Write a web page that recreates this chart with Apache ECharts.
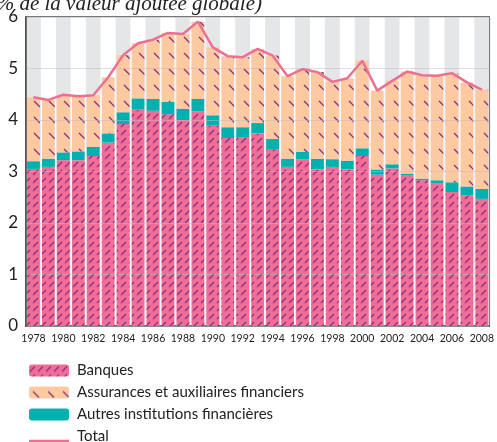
<!DOCTYPE html>
<html>
<head>
<meta charset="utf-8">
<script src="https://cdn.jsdelivr.net/npm/echarts@6/dist/echarts.min.js"></script>
<style>
    html, body { margin: 0; padding: 0; background: #fff; }
    #chart1 { width: 497px; height: 442px; }
</style>
</head>
<body>
<div id="chart1"></div>
<script>
var years = ['1978', '1979', '1980', '1981', '1982', '1983', '1984', '1985', '1986', '1987', '1988',
    '1989', '1990', '1991', '1992', '1993', '1994', '1995', '1996', '1997', '1998', '1999', '2000',
    '2001', '2002', '2003', '2004', '2005', '2006', '2007', '2008']
var banques = [3.05, 3.09, 3.22, 3.22, 3.30, 3.56, 3.92, 4.20, 4.18, 4.11, 4.00, 4.17, 3.89, 3.65, 3.67,
    3.74, 3.43, 3.09, 3.24, 3.04, 3.09, 3.04, 3.30, 2.94, 3.06, 2.92, 2.83, 2.77, 2.60, 2.54, 2.47]
var autres = [0.15, 0.16, 0.15, 0.17, 0.18, 0.18, 0.23, 0.22, 0.23, 0.24, 0.22, 0.24, 0.20, 0.21, 0.19,
    0.20, 0.20, 0.16, 0.14, 0.21, 0.15, 0.17, 0.15, 0.10, 0.08, 0.04, 0.03, 0.06, 0.19, 0.17, 0.19]
var assurances = [1.24, 1.14, 1.12, 1.07, 1.00, 1.09, 1.11, 1.07, 1.15, 1.34, 1.45, 1.50, 1.32, 1.38, 1.36,
    1.44, 1.62, 1.60, 1.61, 1.68, 1.50, 1.60, 1.70, 1.53, 1.62, 1.98, 2.01, 2.03, 2.12, 2.02, 1.93]
var total = [4.44, 4.39, 4.49, 4.46, 4.48, 4.83, 5.26, 5.49, 5.56, 5.69, 5.67, 5.91, 5.41, 5.24, 5.22,
    5.38, 5.25, 4.85, 4.99, 4.93, 4.74, 4.81, 5.15, 4.57, 4.76, 4.94, 4.87, 4.86, 4.91, 4.73, 4.59]
var yTicks = ['0', '1', '2', '3', '4', '5', '6']

// motifs hachurés
function hatch (bg, w, h, draw) {
    var c = document.createElement('canvas')
    c.width = w
    c.height = h
    var ctx = c.getContext('2d')
    ctx.fillStyle = bg
    ctx.fillRect(0, 0, w, h)
    ctx.strokeStyle = '#8a2c82'
    ctx.lineWidth = 1.3
    draw(ctx)
    return c
}
var banquesPattern = hatch('#f06e95', 8, 8, function (ctx) {
    ctx.beginPath()
    ctx.moveTo(1, 7)
    ctx.lineTo(6, 2)
    ctx.stroke()
})
var assurPattern = hatch('#fdc9a1', 15, 16, function (ctx) {
    ctx.beginPath()
    ctx.moveTo(4, 5)
    ctx.lineTo(10, 11)
    ctx.stroke()
})

var font = 'Lato, "Open Sans", sans-serif'
var myChart = echarts.init(document.getElementById('chart1'))
var option = {
    animation: false,
    graphic: [{
        type: 'text',
        right: 235,
        top: -6,
        style: {
            text: '(en % de la valeur ajoutée globale)',
            font: 'italic 21px "Liberation Serif", serif',
            fill: '#222'
        }
    }],
    grid: {
        left: 26,
        right: 6,
        top: 17,
        bottom: 116,
        show: true,
        borderColor: '#4a4a4a',
        borderWidth: 1.5
    },
    legend: {
        orient: 'vertical',
        left: 29,
        top: 363,
        height: 110,
        padding: 0,
        itemWidth: 40,
        itemHeight: 12,
        itemGap: 7,
        textStyle: { fontFamily: font, fontSize: 15, lineHeight: 12, color: '#222', padding: [0, 0, 0, 3] },
        data: [
            'Banques',
            'Assurances et auxiliaires financiers',
            'Autres institutions financières',
            { name: 'Total', icon: 'path://M0,0 L0.01,0 L0.01,0.01 Z M0,9 L40,9 L40,11.5 L0,11.5 Z' }
        ]
    },
    xAxis: {
        type: 'category',
        data: years,
        axisTick: { show: false },
        axisLine: { lineStyle: { color: '#4a4a4a', width: 1.5 } },
        axisLabel: { interval: 1, margin: 7, fontFamily: font, fontSize: 10.5, color: '#222' },
        splitArea: { show: true, interval: 0, areaStyle: { color: ['#e5e6e8', '#ffffff'] } }
    },
    yAxis: {
        type: 'value',
        min: 0,
        max: 6,
        interval: 1,
        z: 3,
        axisLine: { show: true, lineStyle: { color: '#4a4a4a', width: 1.5 } },
        axisLabel: {
            margin: 8,
            fontFamily: font,
            fontSize: 17,
            color: '#222',
            formatter: function (v) { return yTicks[v] }
        },
        splitLine: { show: true, lineStyle: { color: 'rgba(190,190,190,0.5)', width: 1 } }
    },
    series: [
        {
            name: 'Banques',
            type: 'bar',
            stack: 'total',
            barCategoryGap: '14%',
            itemStyle: { color: { image: banquesPattern, repeat: 'repeat' } },
            data: banques
        },
        {
            name: 'Autres institutions financières',
            type: 'bar',
            stack: 'total',
            itemStyle: { color: '#00b1af' },
            data: autres
        },
        {
            name: 'Assurances et auxiliaires financiers',
            type: 'bar',
            stack: 'total',
            itemStyle: { color: { image: assurPattern, repeat: 'repeat' } },
            data: assurances
        },
        {
            name: 'Total',
            type: 'line',
            symbol: 'none',
            z: 10,
            lineStyle: { color: '#ef6f93', width: 2.5 },
            itemStyle: { color: '#ef6f93' },
            data: total
        }
    ]
}
myChart.setOption(option)
</script>
</body>
</html>
